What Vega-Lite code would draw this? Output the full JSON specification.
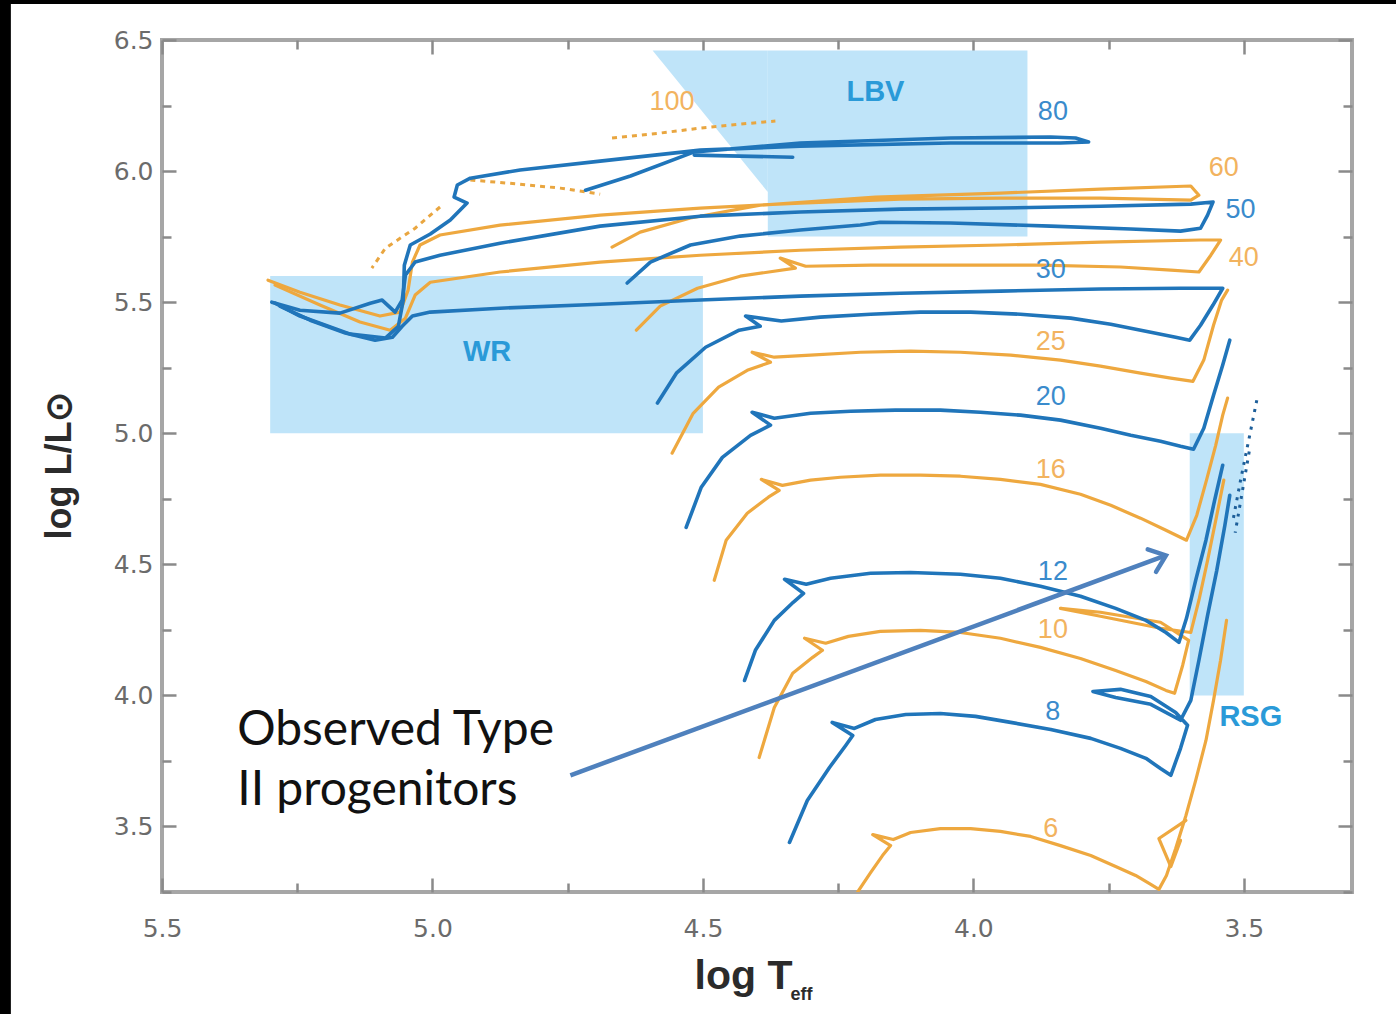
{
  "$schema": "https://vega.github.io/schema/vega-lite/v6.json",
  "width": 1190,
  "height": 852,
  "autosize": {"type": "none"},
  "padding": {"left": 162, "top": 40, "right": 44, "bottom": 122},
  "background": "#ffffff",
  "config": {
    "view": {"stroke": "#a6a6a6", "strokeWidth": 4},
    "axis": {"grid": false, "domain": false, "labelFont": "DejaVu Sans", "labelFontSize": 25, "labelColor": "#6b6b6b", "tickColor": "#8a8a8a", "tickWidth": 2.5, "labelFlush": false, "labelOverlap": false}
  },
  "datasets": {
    "frame": [
      {"T": 5.7997, "T2": 5.7794, "L": 6.6527, "L2": 2.782},
      {"T": 5.7997, "T2": 3.217, "L": 6.6527, "L2": 6.6374}
    ],
    "regions": [
      {"T": 5.3, "T2": 4.5, "L": 5.0, "L2": 5.6},
      {"T": 3.6, "T2": 3.5, "L": 4.0, "L2": 5.0},
      {"T": 4.38, "T2": 3.9, "L": 5.75, "L2": 6.46}
    ],
    "lbvtri": [
      {"T": 4.593, "L": 6.46, "L2": 6.46},
      {"T": 4.38, "L": 5.92, "L2": 6.46}
    ],
    "orange": [
      {"id":"6","o":0,"T":4.236,"L":3.179},{"id":"6","o":1,"T":4.212,"L":3.256},{"id":"6","o":2,"T":4.190,"L":3.324},{"id":"6","o":3,"T":4.168,"L":3.389},{"id":"6","o":4,"T":4.153,"L":3.427},{"id":"6","o":5,"T":4.186,"L":3.469},{"id":"6","o":6,"T":4.148,"L":3.450},{"id":"6","o":7,"T":4.116,"L":3.477},{"id":"6","o":8,"T":4.061,"L":3.492},{"id":"6","o":9,"T":4.005,"L":3.492},{"id":"6","o":10,"T":3.950,"L":3.481},{"id":"6","o":11,"T":3.894,"L":3.462},{"id":"6","o":12,"T":3.839,"L":3.427},{"id":"6","o":13,"T":3.783,"L":3.389},{"id":"6","o":14,"T":3.737,"L":3.347},{"id":"6","o":15,"T":3.700,"L":3.313},{"id":"6","o":16,"T":3.672,"L":3.279},{"id":"6","o":17,"T":3.657,"L":3.260},{"id":"6","o":18,"T":3.643,"L":3.313},{"id":"6","o":19,"T":3.626,"L":3.416},{"id":"6","o":20,"T":3.607,"L":3.542},{"id":"6","o":21,"T":3.589,"L":3.676},{"id":"6","o":22,"T":3.570,"L":3.828},{"id":"6","o":23,"T":3.556,"L":3.981},{"id":"6","o":24,"T":3.543,"L":4.134},{"id":"6","o":25,"T":3.532,"L":4.286},
      {"id":"6b","o":0,"T":3.607,"L":3.523},{"id":"6b","o":1,"T":3.657,"L":3.454},{"id":"6b","o":2,"T":3.635,"L":3.347},{"id":"6b","o":3,"T":3.617,"L":3.447},
      {"id":"10","o":0,"T":4.396,"L":3.763},{"id":"10","o":1,"T":4.368,"L":3.954},{"id":"10","o":2,"T":4.334,"L":4.084},{"id":"10","o":3,"T":4.297,"L":4.145},{"id":"10","o":4,"T":4.279,"L":4.172},{"id":"10","o":5,"T":4.312,"L":4.218},{"id":"10","o":6,"T":4.273,"L":4.199},{"id":"10","o":7,"T":4.231,"L":4.225},{"id":"10","o":8,"T":4.172,"L":4.244},{"id":"10","o":9,"T":4.098,"L":4.248},{"id":"10","o":10,"T":4.024,"L":4.240},{"id":"10","o":11,"T":3.950,"L":4.218},{"id":"10","o":12,"T":3.876,"L":4.183},{"id":"10","o":13,"T":3.802,"L":4.141},{"id":"10","o":14,"T":3.737,"L":4.095},{"id":"10","o":15,"T":3.681,"L":4.053},{"id":"10","o":16,"T":3.644,"L":4.019},{"id":"10","o":17,"T":3.628,"L":4.008},{"id":"10","o":18,"T":3.613,"L":4.115},{"id":"10","o":19,"T":3.602,"L":4.210},{"id":"10","o":20,"T":3.654,"L":4.279},{"id":"10","o":21,"T":3.765,"L":4.317},{"id":"10","o":22,"T":3.839,"L":4.332},{"id":"10","o":23,"T":3.765,"L":4.302},{"id":"10","o":24,"T":3.654,"L":4.256},{"id":"10","o":25,"T":3.598,"L":4.240},{"id":"10","o":26,"T":3.583,"L":4.363},{"id":"10","o":27,"T":3.567,"L":4.515},{"id":"10","o":28,"T":3.550,"L":4.687},{"id":"10","o":29,"T":3.537,"L":4.821},
      {"id":"16","o":0,"T":4.479,"L":4.439},{"id":"16","o":1,"T":4.457,"L":4.592},{"id":"16","o":2,"T":4.418,"L":4.695},{"id":"16","o":3,"T":4.379,"L":4.756},{"id":"16","o":4,"T":4.359,"L":4.782},{"id":"16","o":5,"T":4.392,"L":4.824},{"id":"16","o":6,"T":4.353,"L":4.801},{"id":"16","o":7,"T":4.301,"L":4.821},{"id":"16","o":8,"T":4.246,"L":4.832},{"id":"16","o":9,"T":4.172,"L":4.840},{"id":"16","o":10,"T":4.098,"L":4.840},{"id":"16","o":11,"T":4.024,"L":4.836},{"id":"16","o":12,"T":3.950,"L":4.824},{"id":"16","o":13,"T":3.876,"L":4.805},{"id":"16","o":14,"T":3.802,"L":4.767},{"id":"16","o":15,"T":3.746,"L":4.725},{"id":"16","o":16,"T":3.691,"L":4.676},{"id":"16","o":17,"T":3.644,"L":4.630},{"id":"16","o":18,"T":3.606,"L":4.592},{"id":"16","o":19,"T":3.587,"L":4.687},{"id":"16","o":20,"T":3.569,"L":4.821},{"id":"16","o":21,"T":3.552,"L":4.954},{"id":"16","o":22,"T":3.539,"L":5.069},{"id":"16","o":23,"T":3.530,"L":5.134},
      {"id":"25","o":0,"T":4.557,"L":4.924},{"id":"25","o":1,"T":4.518,"L":5.076},{"id":"25","o":2,"T":4.471,"L":5.176},{"id":"25","o":3,"T":4.418,"L":5.240},{"id":"25","o":4,"T":4.375,"L":5.271},{"id":"25","o":5,"T":4.409,"L":5.309},{"id":"25","o":6,"T":4.368,"L":5.290},{"id":"25","o":7,"T":4.301,"L":5.298},{"id":"25","o":8,"T":4.209,"L":5.309},{"id":"25","o":9,"T":4.116,"L":5.313},{"id":"25","o":10,"T":4.024,"L":5.309},{"id":"25","o":11,"T":3.931,"L":5.298},{"id":"25","o":12,"T":3.839,"L":5.279},{"id":"25","o":13,"T":3.765,"L":5.256},{"id":"25","o":14,"T":3.691,"L":5.229},{"id":"25","o":15,"T":3.635,"L":5.210},{"id":"25","o":16,"T":3.594,"L":5.198},{"id":"25","o":17,"T":3.574,"L":5.279},{"id":"25","o":18,"T":3.556,"L":5.412},{"id":"25","o":19,"T":3.541,"L":5.508},{"id":"25","o":20,"T":3.530,"L":5.546},
      {"id":"40","o":0,"T":4.623,"L":5.393},{"id":"40","o":1,"T":4.579,"L":5.485},{"id":"40","o":2,"T":4.510,"L":5.553},{"id":"40","o":3,"T":4.431,"L":5.599},{"id":"40","o":4,"T":4.329,"L":5.630},{"id":"40","o":5,"T":4.357,"L":5.668},{"id":"40","o":6,"T":4.310,"L":5.637},{"id":"40","o":7,"T":4.190,"L":5.641},{"id":"40","o":8,"T":4.042,"L":5.641},{"id":"40","o":9,"T":3.876,"L":5.641},{"id":"40","o":10,"T":3.728,"L":5.634},{"id":"40","o":11,"T":3.635,"L":5.622},{"id":"40","o":12,"T":3.583,"L":5.615},{"id":"40","o":13,"T":3.561,"L":5.679},{"id":"40","o":14,"T":3.543,"L":5.737},{"id":"40","o":15,"T":3.580,"L":5.737},{"id":"40","o":16,"T":3.765,"L":5.729},{"id":"40","o":17,"T":3.950,"L":5.718},{"id":"40","o":18,"T":4.135,"L":5.710},{"id":"40","o":19,"T":4.320,"L":5.698},{"id":"40","o":20,"T":4.505,"L":5.679},{"id":"40","o":21,"T":4.690,"L":5.653},{"id":"40","o":22,"T":4.875,"L":5.615},{"id":"40","o":23,"T":5.004,"L":5.576},{"id":"40","o":24,"T":5.032,"L":5.527},{"id":"40","o":25,"T":5.050,"L":5.439},{"id":"40","o":26,"T":5.078,"L":5.393},{"id":"40","o":27,"T":5.134,"L":5.424},{"id":"40","o":28,"T":5.208,"L":5.489},{"id":"40","o":29,"T":5.291,"L":5.565},
      {"id":"60","o":0,"T":4.668,"L":5.710},{"id":"60","o":1,"T":4.616,"L":5.767},{"id":"60","o":2,"T":4.523,"L":5.821},{"id":"60","o":3,"T":4.394,"L":5.870},{"id":"60","o":4,"T":4.181,"L":5.901},{"id":"60","o":5,"T":3.950,"L":5.916},{"id":"60","o":6,"T":3.765,"L":5.931},{"id":"60","o":7,"T":3.598,"L":5.943},{"id":"60","o":8,"T":3.583,"L":5.908},{"id":"60","o":9,"T":3.598,"L":5.889},{"id":"60","o":10,"T":3.765,"L":5.897},{"id":"60","o":11,"T":3.950,"L":5.897},{"id":"60","o":12,"T":4.135,"L":5.893},{"id":"60","o":13,"T":4.320,"L":5.878},{"id":"60","o":14,"T":4.505,"L":5.859},{"id":"60","o":15,"T":4.690,"L":5.832},{"id":"60","o":16,"T":4.875,"L":5.794},{"id":"60","o":17,"T":4.986,"L":5.756},{"id":"60","o":18,"T":5.023,"L":5.718},{"id":"60","o":19,"T":5.037,"L":5.653},{"id":"60","o":20,"T":5.045,"L":5.546},{"id":"60","o":21,"T":5.060,"L":5.462},{"id":"60","o":22,"T":5.097,"L":5.447},{"id":"60","o":23,"T":5.171,"L":5.489},{"id":"60","o":24,"T":5.245,"L":5.538},{"id":"60","o":25,"T":5.304,"L":5.584}
    ],
    "blue": [
      {"id":"8","o":0,"T":4.340,"L":3.439},{"id":"8","o":1,"T":4.307,"L":3.599},{"id":"8","o":2,"T":4.266,"L":3.725},{"id":"8","o":3,"T":4.236,"L":3.809},{"id":"8","o":4,"T":4.223,"L":3.847},{"id":"8","o":5,"T":4.261,"L":3.897},{"id":"8","o":6,"T":4.220,"L":3.874},{"id":"8","o":7,"T":4.181,"L":3.908},{"id":"8","o":8,"T":4.125,"L":3.927},{"id":"8","o":9,"T":4.061,"L":3.931},{"id":"8","o":10,"T":3.996,"L":3.920},{"id":"8","o":11,"T":3.931,"L":3.897},{"id":"8","o":12,"T":3.857,"L":3.870},{"id":"8","o":13,"T":3.783,"L":3.836},{"id":"8","o":14,"T":3.728,"L":3.798},{"id":"8","o":15,"T":3.681,"L":3.760},{"id":"8","o":16,"T":3.654,"L":3.721},{"id":"8","o":17,"T":3.635,"L":3.695},{"id":"8","o":18,"T":3.617,"L":3.798},{"id":"8","o":19,"T":3.604,"L":3.886},{"id":"8","o":20,"T":3.626,"L":3.935},{"id":"8","o":21,"T":3.672,"L":3.996},{"id":"8","o":22,"T":3.728,"L":4.023},{"id":"8","o":23,"T":3.779,"L":4.015},{"id":"8","o":24,"T":3.737,"L":3.992},{"id":"8","o":25,"T":3.672,"L":3.966},{"id":"8","o":26,"T":3.617,"L":3.905},{"id":"8","o":27,"T":3.598,"L":3.981},{"id":"8","o":28,"T":3.583,"L":4.134},{"id":"8","o":29,"T":3.567,"L":4.305},{"id":"8","o":30,"T":3.550,"L":4.477},{"id":"8","o":31,"T":3.535,"L":4.649},{"id":"8","o":32,"T":3.526,"L":4.763},
      {"id":"12","o":0,"T":4.423,"L":4.057},{"id":"12","o":1,"T":4.403,"L":4.172},{"id":"12","o":2,"T":4.368,"L":4.286},{"id":"12","o":3,"T":4.333,"L":4.355},{"id":"12","o":4,"T":4.314,"L":4.389},{"id":"12","o":5,"T":4.349,"L":4.443},{"id":"12","o":6,"T":4.309,"L":4.424},{"id":"12","o":7,"T":4.264,"L":4.447},{"id":"12","o":8,"T":4.190,"L":4.466},{"id":"12","o":9,"T":4.116,"L":4.469},{"id":"12","o":10,"T":4.024,"L":4.462},{"id":"12","o":11,"T":3.950,"L":4.447},{"id":"12","o":12,"T":3.876,"L":4.416},{"id":"12","o":13,"T":3.802,"L":4.378},{"id":"12","o":14,"T":3.737,"L":4.332},{"id":"12","o":15,"T":3.681,"L":4.286},{"id":"12","o":16,"T":3.644,"L":4.240},{"id":"12","o":17,"T":3.620,"L":4.202},{"id":"12","o":18,"T":3.606,"L":4.294},{"id":"12","o":19,"T":3.589,"L":4.439},{"id":"12","o":20,"T":3.570,"L":4.592},{"id":"12","o":21,"T":3.554,"L":4.744},{"id":"12","o":22,"T":3.539,"L":4.878},
      {"id":"20","o":0,"T":4.531,"L":4.641},{"id":"20","o":1,"T":4.503,"L":4.794},{"id":"20","o":2,"T":4.464,"L":4.908},{"id":"20","o":3,"T":4.412,"L":4.992},{"id":"20","o":4,"T":4.375,"L":5.031},{"id":"20","o":5,"T":4.409,"L":5.080},{"id":"20","o":6,"T":4.368,"L":5.057},{"id":"20","o":7,"T":4.301,"L":5.076},{"id":"20","o":8,"T":4.227,"L":5.084},{"id":"20","o":9,"T":4.144,"L":5.088},{"id":"20","o":10,"T":4.061,"L":5.088},{"id":"20","o":11,"T":3.987,"L":5.080},{"id":"20","o":12,"T":3.913,"L":5.069},{"id":"20","o":13,"T":3.839,"L":5.050},{"id":"20","o":14,"T":3.765,"L":5.019},{"id":"20","o":15,"T":3.709,"L":4.992},{"id":"20","o":16,"T":3.654,"L":4.969},{"id":"20","o":17,"T":3.617,"L":4.950},{"id":"20","o":18,"T":3.593,"L":4.939},{"id":"20","o":19,"T":3.574,"L":5.019},{"id":"20","o":20,"T":3.556,"L":5.145},{"id":"20","o":21,"T":3.539,"L":5.260},{"id":"20","o":22,"T":3.526,"L":5.355},
      {"id":"30","o":0,"T":4.584,"L":5.115},{"id":"30","o":1,"T":4.549,"L":5.229},{"id":"30","o":2,"T":4.495,"L":5.328},{"id":"30","o":3,"T":4.433,"L":5.393},{"id":"30","o":4,"T":4.394,"L":5.408},{"id":"30","o":5,"T":4.421,"L":5.447},{"id":"30","o":6,"T":4.355,"L":5.428},{"id":"30","o":7,"T":4.283,"L":5.443},{"id":"30","o":8,"T":4.190,"L":5.454},{"id":"30","o":9,"T":4.098,"L":5.462},{"id":"30","o":10,"T":4.005,"L":5.462},{"id":"30","o":11,"T":3.913,"L":5.454},{"id":"30","o":12,"T":3.820,"L":5.439},{"id":"30","o":13,"T":3.746,"L":5.416},{"id":"30","o":14,"T":3.672,"L":5.385},{"id":"30","o":15,"T":3.626,"L":5.366},{"id":"30","o":16,"T":3.600,"L":5.355},{"id":"30","o":17,"T":3.580,"L":5.412},{"id":"30","o":18,"T":3.557,"L":5.489},{"id":"30","o":19,"T":3.539,"L":5.553},{"id":"30","o":20,"T":3.617,"L":5.553},{"id":"30","o":21,"T":3.765,"L":5.550},{"id":"30","o":22,"T":3.950,"L":5.542},{"id":"30","o":23,"T":4.135,"L":5.534},{"id":"30","o":24,"T":4.320,"L":5.523},{"id":"30","o":25,"T":4.505,"L":5.508},{"id":"30","o":26,"T":4.690,"L":5.492},{"id":"30","o":27,"T":4.875,"L":5.477},{"id":"30","o":28,"T":5.004,"L":5.462},{"id":"30","o":29,"T":5.037,"L":5.447},{"id":"30","o":30,"T":5.056,"L":5.408},{"id":"30","o":31,"T":5.074,"L":5.366},{"id":"30","o":32,"T":5.106,"L":5.355},{"id":"30","o":33,"T":5.161,"L":5.382},{"id":"30","o":34,"T":5.226,"L":5.431},{"id":"30","o":35,"T":5.282,"L":5.485},
      {"id":"50","o":0,"T":4.640,"L":5.573},{"id":"50","o":1,"T":4.597,"L":5.653},{"id":"50","o":2,"T":4.523,"L":5.718},{"id":"50","o":3,"T":4.431,"L":5.752},{"id":"50","o":4,"T":4.320,"L":5.775},{"id":"50","o":5,"T":4.209,"L":5.794},{"id":"50","o":6,"T":4.172,"L":5.805},{"id":"50","o":7,"T":4.042,"L":5.802},{"id":"50","o":8,"T":3.857,"L":5.790},{"id":"50","o":9,"T":3.709,"L":5.779},{"id":"50","o":10,"T":3.617,"L":5.771},{"id":"50","o":11,"T":3.580,"L":5.782},{"id":"50","o":12,"T":3.567,"L":5.832},{"id":"50","o":13,"T":3.557,"L":5.882},{"id":"50","o":14,"T":3.598,"L":5.874},{"id":"50","o":15,"T":3.765,"L":5.866},{"id":"50","o":16,"T":3.950,"L":5.859},{"id":"50","o":17,"T":4.135,"L":5.855},{"id":"50","o":18,"T":4.320,"L":5.844},{"id":"50","o":19,"T":4.505,"L":5.828},{"id":"50","o":20,"T":4.690,"L":5.790},{"id":"50","o":21,"T":4.875,"L":5.725},{"id":"50","o":22,"T":4.986,"L":5.679},{"id":"50","o":23,"T":5.032,"L":5.653},{"id":"50","o":24,"T":5.050,"L":5.603},{"id":"50","o":25,"T":5.056,"L":5.508},{"id":"50","o":26,"T":5.069,"L":5.462},{"id":"50","o":27,"T":5.093,"L":5.508},{"id":"50","o":28,"T":5.115,"L":5.496},{"id":"50","o":29,"T":5.171,"L":5.458},{"id":"50","o":30,"T":5.245,"L":5.469},{"id":"50","o":31,"T":5.297,"L":5.500},
      {"id":"80","o":0,"T":4.717,"L":5.927},{"id":"80","o":1,"T":4.634,"L":5.981},{"id":"80","o":2,"T":4.516,"L":6.073},{"id":"80","o":3,"T":4.320,"L":6.107},{"id":"80","o":4,"T":4.042,"L":6.126},{"id":"80","o":5,"T":3.857,"L":6.130},{"id":"80","o":6,"T":3.811,"L":6.126},{"id":"80","o":7,"T":3.787,"L":6.111},{"id":"80","o":8,"T":3.839,"L":6.107},{"id":"80","o":9,"T":4.042,"L":6.107},{"id":"80","o":10,"T":4.320,"L":6.095},{"id":"80","o":11,"T":4.505,"L":6.080},{"id":"80","o":12,"T":4.690,"L":6.038},{"id":"80","o":13,"T":4.838,"L":6.004},{"id":"80","o":14,"T":4.930,"L":5.973},{"id":"80","o":15,"T":4.954,"L":5.947},{"id":"80","o":16,"T":4.960,"L":5.901},{"id":"80","o":17,"T":4.936,"L":5.878},{"id":"80","o":18,"T":4.967,"L":5.813},{"id":"80","o":19,"T":5.004,"L":5.760},{"id":"80","o":20,"T":5.041,"L":5.718},{"id":"80","o":21,"T":5.052,"L":5.641},{"id":"80","o":22,"T":5.054,"L":5.508},{"id":"80","o":23,"T":5.063,"L":5.408},{"id":"80","o":24,"T":5.087,"L":5.363},{"id":"80","o":25,"T":5.152,"L":5.378},{"id":"80","o":26,"T":5.245,"L":5.447},{"id":"80","o":27,"T":5.291,"L":5.496},
      {"id":"80b","o":0,"T":4.516,"L":6.061},{"id":"80b","o":1,"T":4.431,"L":6.057},{"id":"80b","o":2,"T":4.334,"L":6.053}
    ],
    "dashed": [
      {"id":"a","o":0,"T":4.668,"L":6.126},{"id":"a","o":1,"T":4.579,"L":6.145},{"id":"a","o":2,"T":4.505,"L":6.164},{"id":"a","o":3,"T":4.431,"L":6.179},{"id":"a","o":4,"T":4.366,"L":6.191},
      {"id":"b","o":0,"T":4.930,"L":5.966},{"id":"b","o":1,"T":4.838,"L":5.950},{"id":"b","o":2,"T":4.764,"L":5.935},{"id":"b","o":3,"T":4.690,"L":5.912},
      {"id":"c","o":0,"T":4.986,"L":5.863},{"id":"c","o":1,"T":5.032,"L":5.782},{"id":"c","o":2,"T":5.087,"L":5.706},{"id":"c","o":3,"T":5.112,"L":5.630}
    ],
    "dotted": [
      {"id":"d1","o":0,"T":3.476,"L":5.126},{"id":"d1","o":1,"T":3.491,"L":4.973},{"id":"d1","o":2,"T":3.506,"L":4.821},{"id":"d1","o":3,"T":3.520,"L":4.668},
      {"id":"d2","o":0,"T":3.490,"L":4.930},{"id":"d2","o":1,"T":3.503,"L":4.775},{"id":"d2","o":2,"T":3.516,"L":4.620}
    ],
    "labels": [
      {"txt":"100","c":"o","T":4.557,"L":6.263},{"txt":"80","c":"b","T":3.853,"L":6.225},{"txt":"60","c":"o","T":3.537,"L":6.011},{"txt":"50","c":"b","T":3.506,"L":5.851},{"txt":"40","c":"o","T":3.500,"L":5.668},{"txt":"30","c":"b","T":3.857,"L":5.622},{"txt":"25","c":"o","T":3.857,"L":5.347},{"txt":"20","c":"b","T":3.857,"L":5.137},{"txt":"16","c":"o","T":3.857,"L":4.859},{"txt":"12","c":"b","T":3.853,"L":4.469},{"txt":"10","c":"o","T":3.853,"L":4.248},{"txt":"8","c":"b","T":3.853,"L":3.935},{"txt":"6","c":"o","T":3.857,"L":3.492}
    ],
    "zones": [
      {"txt":"LBV","T":4.181,"L":6.302},{"txt":"WR","T":4.899,"L":5.309},{"txt":"RSG","T":3.487,"L":3.916}
    ],
    "note": [{"txt":"Observed Type\nII progenitors","T":5.361,"L":3.809}],
    "arrow": [{"o":0,"T":4.745,"L":3.695},{"o":1,"T":3.644,"L":4.534}],
    "tip": [{"T":3.644,"L":4.534}],
    "sub": [{"txt":"eff","T":4.338,"L":2.838}]
  },
  "layer": [
    {
      "layer": [
        {
          "data": {"name": "regions"},
          "mark": {"type": "rect", "color": "#bfe4f9"},
          "encoding": {
            "x": {"field": "T", "type": "quantitative", "scale": {"domain": [3.3, 5.5], "reverse": true, "nice": false, "zero": false},
              "axis": {"orient": "bottom", "title": "log T", "values": [5.5, 5.25, 5.0, 4.75, 4.5, 4.25, 4.0, 3.75, 3.5],
                "labelExpr": "round(datum.value*2) == datum.value*2 ? format(datum.value, '.1f') : ''",
                "tickSize": {"condition": {"test": "round(datum.value*2) == datum.value*2", "value": -14}, "value": -9},
                "labelPadding": 38, "titleFont": "Liberation Sans", "titleFontWeight": "bold", "titleFontSize": 41, "titleColor": "#2b2b2b",
                "titleBaseline": "alphabetic", "titleAnchor": "start", "titleAlign": "center", "titleX": 581, "titleY": 96}},
            "x2": {"field": "T2"},
            "y": {"field": "L", "type": "quantitative", "scale": {"domain": [3.25, 6.5], "nice": false, "zero": false},
              "axis": {"orient": "left", "title": "log L/L⊙", "values": [3.25, 3.5, 3.75, 4.0, 4.25, 4.5, 4.75, 5.0, 5.25, 5.5, 5.75, 6.0, 6.25, 6.5],
                "labelExpr": "round(datum.value*2) == datum.value*2 ? format(datum.value, '.1f') : ''",
                "tickSize": {"condition": {"test": "round(datum.value*2) == datum.value*2", "value": -14}, "value": -9},
                "labelPadding": 23, "titleFont": "Liberation Sans", "titleFontWeight": "bold", "titleFontSize": 36, "titleColor": "#2b2b2b",
                "titleBaseline": "alphabetic", "titleAngle": -90, "titleAlign": "center", "titleX": -92, "titleY": 425}},
            "y2": {"field": "L2"}
          }
        },
        {
          "data": {"name": "frame"},
          "mark": {"type": "rect", "color": "#000000"},
          "encoding": {
            "x": {"field": "T", "type": "quantitative"},
            "x2": {"field": "T2"},
            "y": {"field": "L", "type": "quantitative"},
            "y2": {"field": "L2"}
          }
        },
        {
          "data": {"name": "lbvtri"},
          "mark": {"type": "area", "color": "#bfe4f9"},
          "encoding": {
            "x": {"field": "T", "type": "quantitative"},
            "y": {"field": "L", "type": "quantitative"},
            "y2": {"field": "L2"}
          }
        },
        {
          "data": {"name": "orange"},
          "mark": {"type": "line", "color": "#eea83f", "strokeWidth": 3.2, "strokeJoin": "round", "strokeCap": "round", "clip": true},
          "encoding": {
            "x": {"field": "T", "type": "quantitative"},
            "y": {"field": "L", "type": "quantitative"},
            "detail": {"field": "id"},
            "order": {"field": "o", "type": "quantitative"}
          }
        },
        {
          "data": {"name": "dashed"},
          "mark": {"type": "line", "color": "#e9a640", "strokeWidth": 3, "strokeDash": [5, 5]},
          "encoding": {
            "x": {"field": "T", "type": "quantitative"},
            "y": {"field": "L", "type": "quantitative"},
            "detail": {"field": "id"},
            "order": {"field": "o", "type": "quantitative"}
          }
        },
        {
          "data": {"name": "blue"},
          "mark": {"type": "line", "color": "#2075ba", "strokeWidth": 3.6, "strokeJoin": "round", "strokeCap": "round"},
          "encoding": {
            "x": {"field": "T", "type": "quantitative"},
            "y": {"field": "L", "type": "quantitative"},
            "detail": {"field": "id"},
            "order": {"field": "o", "type": "quantitative"}
          }
        },
        {
          "data": {"name": "dotted"},
          "mark": {"type": "line", "color": "#1d5f9a", "strokeWidth": 3, "strokeDash": [3, 6]},
          "encoding": {
            "x": {"field": "T", "type": "quantitative"},
            "y": {"field": "L", "type": "quantitative"},
            "detail": {"field": "id"},
            "order": {"field": "o", "type": "quantitative"}
          }
        },
        {
          "data": {"name": "labels"},
          "transform": [{"filter": "datum.c == 'o'"}],
          "mark": {"type": "text", "color": "#f2b35f", "font": "Liberation Sans", "fontSize": 27, "align": "center", "baseline": "middle"},
          "encoding": {
            "x": {"field": "T", "type": "quantitative"},
            "y": {"field": "L", "type": "quantitative"},
            "text": {"field": "txt"}
          }
        },
        {
          "data": {"name": "labels"},
          "transform": [{"filter": "datum.c == 'b'"}],
          "mark": {"type": "text", "color": "#3a8bcc", "font": "Liberation Sans", "fontSize": 27, "align": "center", "baseline": "middle"},
          "encoding": {
            "x": {"field": "T", "type": "quantitative"},
            "y": {"field": "L", "type": "quantitative"},
            "text": {"field": "txt"}
          }
        },
        {
          "data": {"name": "zones"},
          "mark": {"type": "text", "color": "#2a9ad8", "font": "Liberation Sans", "fontWeight": "bold", "fontSize": 29, "align": "center", "baseline": "middle"},
          "encoding": {
            "x": {"field": "T", "type": "quantitative"},
            "y": {"field": "L", "type": "quantitative"},
            "text": {"field": "txt"}
          }
        },
        {
          "data": {"name": "note"},
          "mark": {"type": "text", "color": "#111111", "font": "Lato", "fontSize": 48, "align": "left", "baseline": "alphabetic", "lineBreak": "\n", "lineHeight": 60},
          "encoding": {
            "x": {"field": "T", "type": "quantitative"},
            "y": {"field": "L", "type": "quantitative"},
            "text": {"field": "txt"}
          }
        },
        {
          "data": {"name": "arrow"},
          "mark": {"type": "line", "color": "#4f81bd", "strokeWidth": 4.5},
          "encoding": {
            "x": {"field": "T", "type": "quantitative"},
            "y": {"field": "L", "type": "quantitative"},
            "order": {"field": "o", "type": "quantitative"}
          }
        },
        {
          "data": {"name": "tip"},
          "mark": {"type": "point", "shape": "M-1,-0.8L0,0L-1,0.8", "size": 900, "angle": 339.7, "filled": false, "color": "#4f81bd", "strokeWidth": 4.5, "opacity": 1, "strokeCap": "round"},
          "encoding": {
            "x": {"field": "T", "type": "quantitative"},
            "y": {"field": "L", "type": "quantitative"}
          }
        },
        {
          "data": {"name": "sub"},
          "mark": {"type": "text", "color": "#2b2b2b", "font": "Liberation Sans", "fontWeight": "bold", "fontSize": 18, "align": "left", "baseline": "alphabetic"},
          "encoding": {
            "x": {"field": "T", "type": "quantitative"},
            "y": {"field": "L", "type": "quantitative"},
            "text": {"field": "txt"}
          }
        }
      ]
    },
    {
      "data": {"name": "tip"},
      "mark": {"type": "point", "opacity": 0},
      "encoding": {
        "x": {"field": "T", "type": "quantitative",
          "axis": {"orient": "top", "title": null, "labels": false, "values": [5.5, 5.25, 5.0, 4.75, 4.5, 4.25, 4.0, 3.75, 3.5],
            "tickSize": {"condition": {"test": "round(datum.value*2) == datum.value*2", "value": -14}, "value": -9}}},
        "y": {"field": "L", "type": "quantitative",
          "axis": {"orient": "right", "title": null, "labels": false, "values": [3.25, 3.5, 3.75, 4.0, 4.25, 4.5, 4.75, 5.0, 5.25, 5.5, 5.75, 6.0, 6.25, 6.5],
            "tickSize": {"condition": {"test": "round(datum.value*2) == datum.value*2", "value": -14}, "value": -9}}}
      }
    }
  ],
  "resolve": {"axis": {"x": "independent", "y": "independent"}}
}
